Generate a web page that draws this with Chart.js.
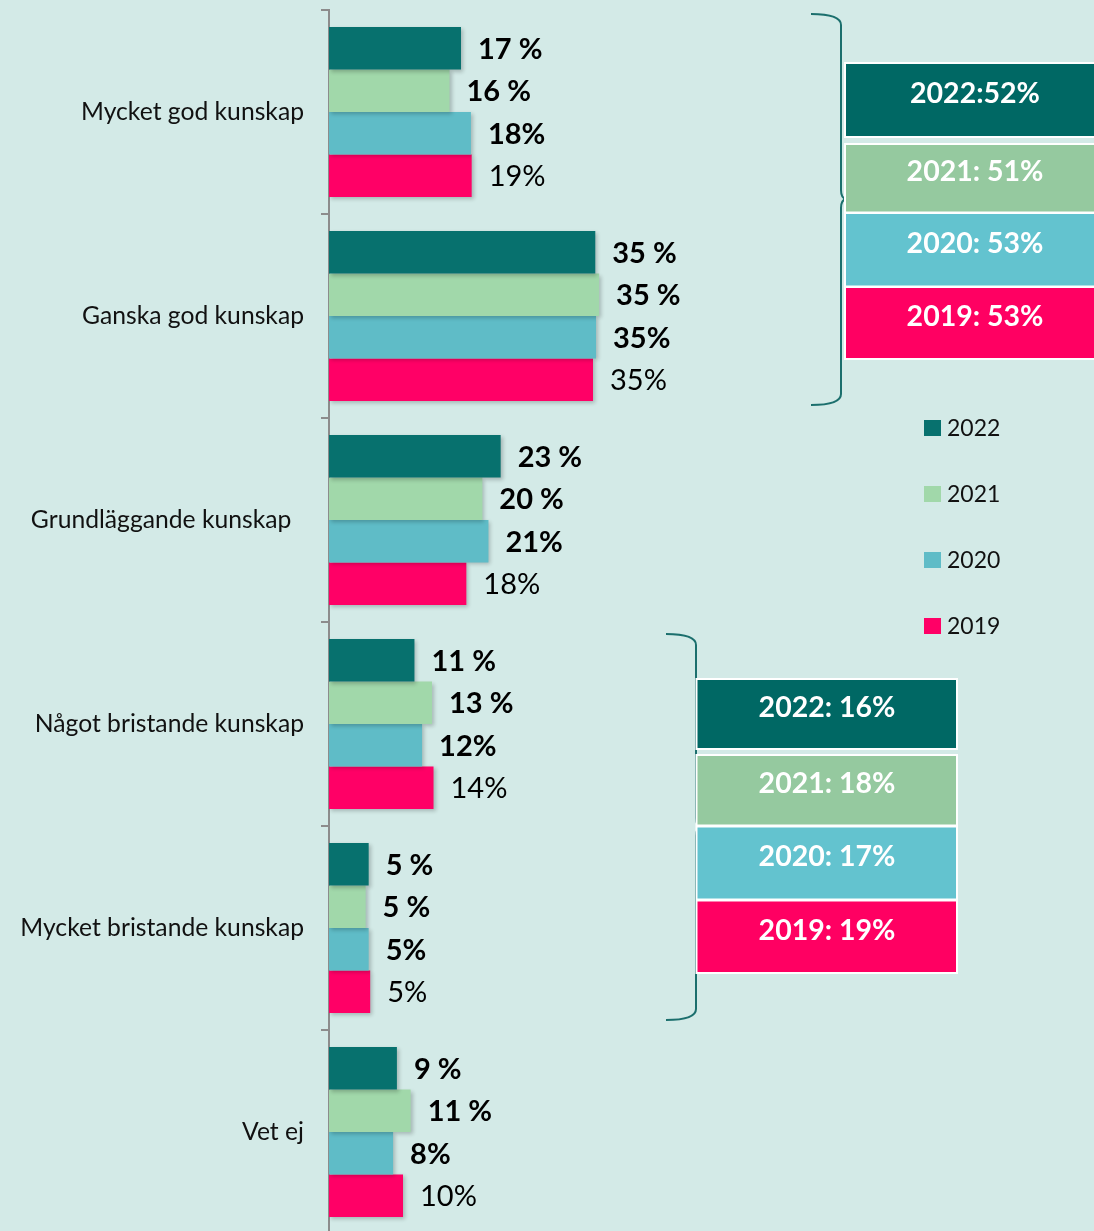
<!DOCTYPE html>
<html><head><meta charset="utf-8">
<script src="https://cdn.jsdelivr.net/npm/chart.js@4"></script>
<style>
html,body{margin:0;padding:0;background:#d3eae7;overflow:hidden}
#wrap{width:1094px;height:1231px;overflow:hidden;position:relative;background:#d3eae7}
canvas{display:block}
</style></head><body>
<div id="wrap"><canvas id="c" width="1094" height="1240"></canvas></div>
<script>
// ---- data ----
const categories = ['Mycket god kunskap','Ganska god kunskap','Grundläggande kunskap\u00a0\u00a0','Något bristande kunskap','Mycket bristande kunskap','Vet ej'];
const years = ['2022','2021','2020','2019'];
const values2022 = [17.3, 34.9, 22.5, 11.2, 5.2, 8.9];
const values2021 = [15.8, 35.4, 20.1, 13.5, 4.8, 10.7];
const values2020 = [18.6, 35.0, 20.9, 12.2, 5.2, 8.4];
const values2019 = [18.7, 34.6, 18.0, 13.7, 5.4, 9.7];
const labels2022 = ['17 %','35 %','23 %','11 %','5 %','9 %'];
const labels2021 = ['16 %','35 %','20 %','13 %','5 %','11 %'];
const labels2020 = ['18%','35%','21%','12%','5%','8%'];
const labels2019 = ['19%','35%','18%','14%','5%','10%'];
const goodSumLabels = ['2022:52%','2021: 51%','2020: 53%','2019: 53%'];
const poorSumLabels = ['2022: 16%','2021: 18%','2020: 17%','2019: 19%'];

// ---- styles ----
const barColors = ['#07716e','#a1d8aa','#5fbcc7','#ff0066'];
const boxColors = ['#006864','#95c99f','#63c3cf','#ff0062'];
const FONT = 'Lato';

const seriesValues = [values2022, values2021, values2020, values2019];
const seriesLabels = [labels2022, labels2021, labels2020, labels2019];

const datasets = years.map((y,i)=>({
  label: y,
  data: seriesValues[i],
  valueLabels: seriesLabels[i],
  backgroundColor: barColors[i],
  borderWidth: 0,
  categoryPercentage: 0.833,
  barPercentage: 1.0
}));

const shadowPlugin = {
  id:'shadow',
  beforeDatasetDraw(chart){
    const ctx = chart.ctx; ctx.save();
    ctx.shadowColor = 'rgba(0,0,0,0.22)';
    ctx.shadowBlur = 4; ctx.shadowOffsetX = 2; ctx.shadowOffsetY = 2;
  },
  afterDatasetDraw(chart){ chart.ctx.restore(); }
};

const valueLabelPlugin = {
  id:'valueLabels',
  afterDatasetsDraw(chart){
    const ctx = chart.ctx;
    chart.data.datasets.forEach((ds,i)=>{
      const meta = chart.getDatasetMeta(i);
      meta.data.forEach((bar,j)=>{
        ctx.save();
        ctx.font = (i<3?'bold ':'') + '29px ' + FONT;
        ctx.fillStyle = '#000';
        ctx.textAlign = 'left'; ctx.textBaseline = 'middle';
        ctx.fillText(ds.valueLabels[j], bar.x + 17, bar.y + 1);
        ctx.restore();
      });
    });
  }
};

function drawBrace(ctx, xl, xr, top, mid, bottom){
  ctx.beginPath();
  ctx.moveTo(xl, top);
  ctx.quadraticCurveTo(xr, top, xr, top + 11);
  ctx.lineTo(xr, mid - 9);
  ctx.quadraticCurveTo(xr, mid - 1, xr + 5, mid);
  ctx.quadraticCurveTo(xr, mid + 1, xr, mid + 9);
  ctx.lineTo(xr, bottom - 11);
  ctx.quadraticCurveTo(xr, bottom, xl, bottom);
  ctx.stroke();
}

function drawBoxGroup(ctx, x, w, rows, labels, textX){
  ctx.fillStyle = '#ffffff';
  ctx.fillRect(x - 2, rows[0][0] - 2, w + 4, rows[0][1] - rows[0][0] + 4);
  ctx.fillRect(x - 2, rows[1][0] - 2, w + 4, rows[3][1] - rows[1][0] + 4);
  rows.forEach((r,i)=>{
    ctx.fillStyle = boxColors[i];
    ctx.fillRect(x, r[0], w, r[1]-r[0]);
    ctx.fillStyle = '#ffffff';
    ctx.font = 'bold 28.5px ' + FONT;
    ctx.textAlign = 'center'; ctx.textBaseline = 'middle';
    ctx.fillText(labels[i], textX, (r[0]+r[1])/2 - 6);
  });
}

const annotationPlugin = {
  id:'annotations',
  afterDraw(chart){
    const ctx = chart.ctx;
    ctx.save();
    ctx.strokeStyle = '#1b6f6d'; ctx.lineWidth = 2;
    drawBrace(ctx, 811, 841, 14, 199, 405);
    drawBrace(ctx, 666, 696, 634, 827, 1020);
    drawBoxGroup(ctx, 846, 260, [[64,136],[145,211.5],[214,285.5],[288,358]], goodSumLabels, 975);
    drawBoxGroup(ctx, 697.5, 258.5, [[680,748],[756,824.5],[827.5,898.5],[901.5,972]], poorSumLabels, 827);
    chart.data.datasets.forEach((ds,i)=>{
      const cy = 428 + i*66;
      ctx.fillStyle = ds.backgroundColor;
      ctx.fillRect(924, cy - 8, 17, 16);
      ctx.fillStyle = '#111';
      ctx.font = '23px ' + FONT;
      ctx.textAlign = 'left'; ctx.textBaseline = 'middle';
      ctx.fillText(ds.label, 947, cy + 1);
    });
    ctx.restore();
  }
};

new Chart(document.getElementById('c'), {
  type:'bar',
  data:{ labels: categories, datasets },
  options:{
    responsive:false,
    animation:false,
    indexAxis:'y',
    layout:{padding:{top:10,bottom:6,right:2,left:0}},
    plugins:{legend:{display:false},tooltip:{enabled:false}},
    scales:{
      x:{display:false,min:0,max:100},
      y:{
        afterFit(s){ s.width = 329; s.paddingTop = 0; s.paddingBottom = 0; },
        grid:{drawOnChartArea:false,drawTicks:true,tickLength:8,color:'#8c8c8c',lineWidth:2,offset:true},
        border:{display:true,color:'#8c8c8c',width:2},
        ticks:{font:{family:FONT,size:24.7},color:'#111',padding:17}
      }
    }
  },
  plugins:[shadowPlugin, valueLabelPlugin, annotationPlugin]
});
</script>
</body></html>
